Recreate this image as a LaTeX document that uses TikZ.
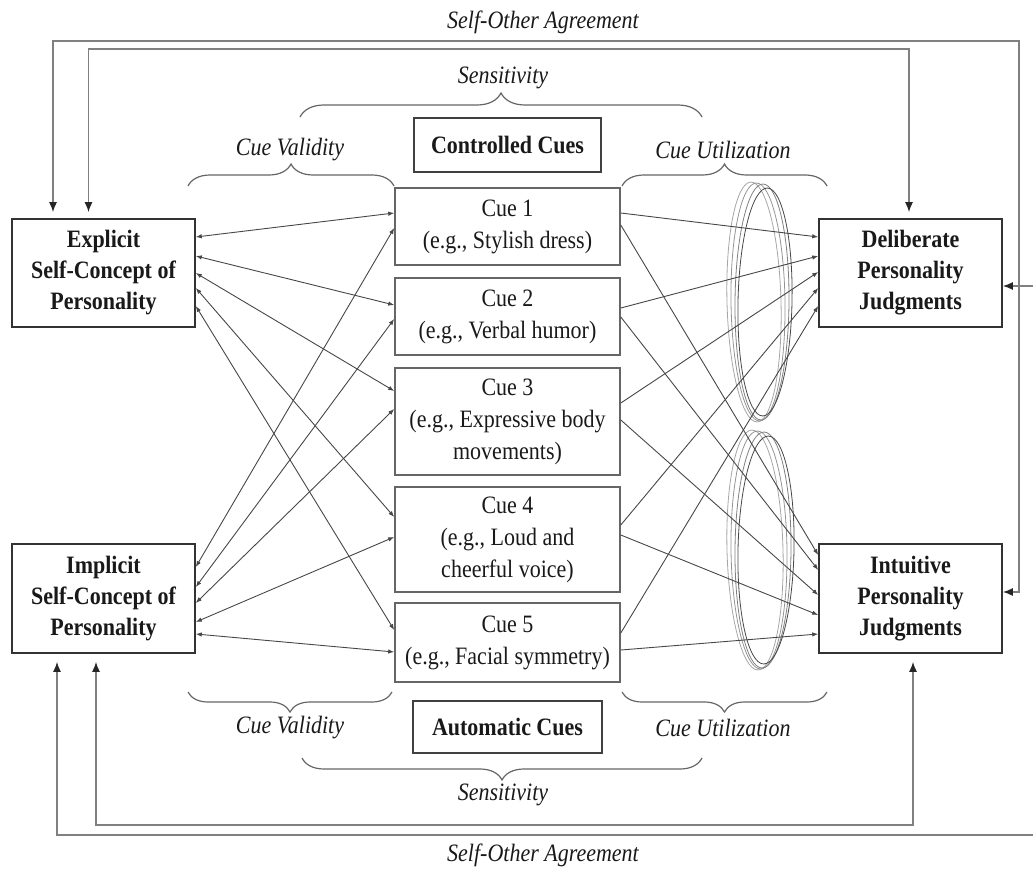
\documentclass[tikz,border=0pt]{standalone}
\usepackage{fontspec}
\setmainfont{Liberation Serif}[FakeStretch=0.88]
\usetikzlibrary{arrows.meta,decorations.pathreplacing,calc}
\begin{document}
\begin{tikzpicture}[x=1pt,y=-1pt,
  judg/.style={draw=black!80, line width=1.6pt, minimum width=183pt, inner sep=0pt, align=center, text=black!90, font=\fontsize{25}{31}\selectfont\bfseries},
  cuebox/.style={draw=black!60, line width=1.6pt, minimum width=225pt, inner sep=0pt, align=center, text=black!90, font=\fontsize{25}{32}\selectfont},
  headbox/.style={draw=black!75, line width=1.6pt, inner sep=0pt, align=center, text=black!90, font=\fontsize{25}{31}\selectfont\bfseries},
  lbl/.style={font=\fontsize{25}{31}\selectfont\itshape, inner sep=0pt, text=black!90},
  lnk/.style={draw=black!72, line width=0.9pt},
  dtip/.style={{Latex[length=6pt,width=4.5pt]}-{Latex[length=6pt,width=4.5pt]}},
  stip/.style={-{Latex[length=6pt,width=4.5pt]}},
  soa/.style={draw=black!50, line width=1.5pt, {Latex[length=10pt,width=8pt,color=black!85]}-{Latex[length=10pt,width=8pt,color=black!85]}},
  brc/.style={draw=black!60, line width=1.2pt, decorate, decoration={brace, amplitude=#1}},
  brcm/.style={draw=black!60, line width=1.2pt, decorate, decoration={brace, mirror, amplitude=#1}},
  ell/.style={draw=black!45, line width=0.8pt},
]
\useasboundingbox (0,0) rectangle (1033,869);

% ellipses
\foreach \dx/\ry/\ang/\col in {-5/120/1.5/35, -1/119/0.8/42, 3/118/-0.5/50, 6/114/-1.2/72}{
  \draw[ell, draw=black!\col, rotate around={\ang:(759+\dx,302)}] (759+\dx,302) ellipse [x radius=27pt, y radius=\ry pt];
  \draw[ell, draw=black!\col, rotate around={\ang:(760+\dx,550)}] (760+\dx,550) ellipse [x radius=28pt, y radius=\ry pt];
}

% boxes
\node[judg, minimum height=108pt] (expl) at (103.5,273) {Explicit\\Self-Concept of\\Personality};
\node[judg, minimum height=109pt] (impl) at (103.5,598.5) {Implicit\\Self-Concept of\\Personality};
\node[judg, minimum height=108pt] (delib) at (910.5,273) {Deliberate\\Personality\\Judgments};
\node[judg, minimum height=109pt] (intu) at (910.5,598.5) {Intuitive\\Personality\\Judgments};

\node[cuebox, minimum height=77pt] (cue1) at (507.5,226.5) {Cue 1\\(e.g., Stylish dress)};
\node[cuebox, minimum height=77pt] (cue2) at (507.5,316.5) {Cue 2\\(e.g., Verbal humor)};
\node[cuebox, minimum height=107pt] (cue3) at (507.5,421.5) {Cue 3\\(e.g., Expressive body\\movements)};
\node[cuebox, minimum height=105pt] (cue4) at (507.5,539.5) {Cue 4\\(e.g., Loud and\\cheerful voice)};
\node[cuebox, minimum height=79pt] (cue5) at (507.5,642.5) {Cue 5\\(e.g., Facial symmetry)};

\node[headbox, minimum width=187pt, minimum height=54pt] (ctrl) at (507.5,145) {Controlled Cues};
\node[headbox, minimum width=189pt, minimum height=52pt] (auto) at (507.5,727) {Automatic Cues};

% labels
\node[lbl] (soatop) at (543,22) {Self-Other Agreement};
\node[lbl] (soabot) at (543,855) {Self-Other Agreement};
\node[lbl] (senstop) at (503,78) {Sensitivity};
\node[lbl] (sensbot) at (503,795) {Sensitivity};
\node[lbl] (cvtop) at (290,150) {Cue Validity};
\node[lbl] (cutop) at (723,150) {Cue Utilization};
\node[lbl] (cvbot) at (290,728) {Cue Validity};
\node[lbl] (cubot) at (723,728) {Cue Utilization};

% braces
\draw[brc=24pt] (300,117) -- (702,117);
\draw[brc=22pt] (188,186) -- (394,186);
\draw[brc=22pt] (622,186) -- (827,186);
\draw[brcm=20pt] (188,692) -- (392,692);
\draw[brcm=20pt] (622,692) -- (827,692);
\draw[brcm=22pt] (302,758) -- (702,758);

% left links (explicit)
\draw[lnk,dtip] ([yshift=36pt]expl.east) -- ([yshift=13.5pt]cue1.west);
\draw[lnk,dtip] ([yshift=17pt]expl.east) -- ([yshift=11.5pt]cue2.west);
\draw[lnk,dtip] ([yshift=0pt]expl.east) -- ([yshift=30.5pt]cue3.west);
\draw[lnk,dtip] ([yshift=-15pt]expl.east) -- ([yshift=22.5pt]cue4.west);
\draw[lnk,dtip] ([yshift=-33pt]expl.east) -- ([yshift=12.5pt]cue5.west);
% left links (implicit)
\draw[lnk,dtip] ([yshift=31.5pt]impl.east) -- ([yshift=-1.5pt]cue1.west);
\draw[lnk,dtip] ([yshift=11.5pt]impl.east) -- ([yshift=-2.5pt]cue2.west);
\draw[lnk,dtip] ([yshift=-4.5pt]impl.east) -- ([yshift=12.5pt]cue3.west);
\draw[lnk,dtip] ([yshift=-23.5pt]impl.east) -- ([yshift=2.5pt]cue4.west);
\draw[lnk,dtip] ([yshift=-35.5pt]impl.east) -- ([yshift=-9.5pt]cue5.west);

% right links (deliberate)
\draw[lnk,stip] ([yshift=13.5pt]cue1.east) -- ([yshift=36pt]delib.west);
\draw[lnk,stip] ([yshift=8.5pt]cue2.east) -- ([yshift=17pt]delib.west);
\draw[lnk,stip] ([yshift=18.5pt]cue3.east) -- ([yshift=1pt]delib.west);
\draw[lnk,stip] ([yshift=14.5pt]cue4.east) -- ([yshift=-15pt]delib.west);
\draw[lnk,stip] ([yshift=9.5pt]cue5.east) -- ([yshift=-33pt]delib.west);
% right links (intuitive)
\draw[lnk,stip] ([yshift=1.5pt]cue1.east) -- ([yshift=43.5pt]intu.west);
\draw[lnk,stip] ([yshift=-0.5pt]cue2.east) -- ([yshift=28.5pt]intu.west);
\draw[lnk,stip] ([yshift=1.5pt]cue3.east) -- ([yshift=3.5pt]intu.west);
\draw[lnk,stip] ([yshift=4.5pt]cue4.east) -- ([yshift=-16.5pt]intu.west);
\draw[lnk,stip] ([yshift=-7.5pt]cue5.east) -- ([yshift=-35.5pt]intu.west);

% self-other agreement
\draw[soa, shorten <=6pt] ([xshift=-50.5pt]expl.north) |- (1019,41) |- ([yshift=6.5pt]intu.east);
\draw[soa, shorten <=6pt, shorten >=6pt] ([xshift=-15pt]expl.north) |- (909,49) -- ([xshift=-1.5pt]delib.north);
\draw[soa, shorten <=8pt] ([xshift=-46.5pt]impl.south) |- (1037,835) |- ([yshift=-13pt]delib.east);
\draw[soa, shorten <=8pt, shorten >=8pt] ([xshift=-7.5pt]impl.south) |- (913,825) -- ([xshift=2.5pt]intu.south);
\end{tikzpicture}
\end{document}
